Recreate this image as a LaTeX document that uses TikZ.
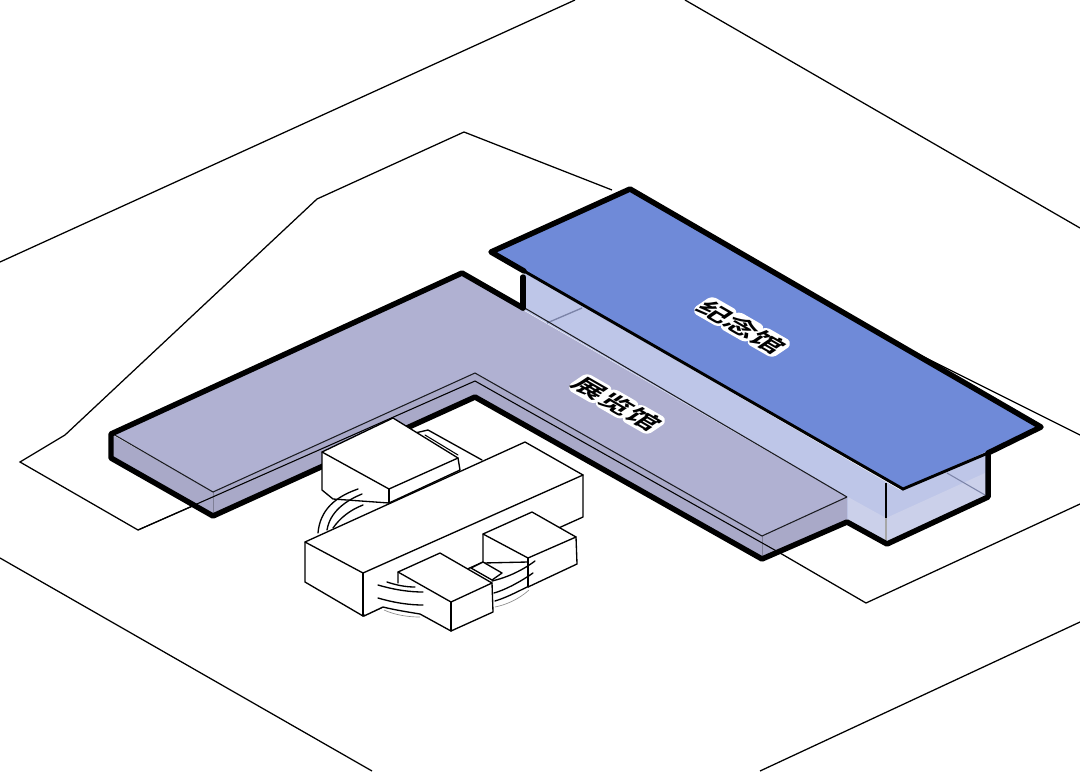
\documentclass[tikz,border=0pt]{standalone}
\usepackage{fontspec}
\newfontfamily\cjk{Noto Sans CJK SC}[BoldFont={Noto Sans CJK SC Bold}]
\definecolor{roofblue}{HTML}{6F8AD8}
\definecolor{slab}{HTML}{B0B1D2}
\definecolor{slabside}{HTML}{A9A9C8}
\definecolor{glass}{HTML}{BEC6E8}
\definecolor{glassfloor}{HTML}{CBD0EA}
\definecolor{glassline}{HTML}{7C84A8}
\tikzset{
  site/.style={draw=black,line width=0.95pt,line join=miter},
  heavy/.style={draw=black,line width=4.1pt,line join=round,line cap=round},
  fine/.style={draw=black!85!slab,line width=0.8pt},
  box/.style={draw=black,fill=white,line width=1pt,line join=round},
  edge/.style={draw=black,line width=1pt,line join=round,line cap=round},
  wire/.style={draw=black,line width=1pt,line cap=round},
  faint/.style={draw=black!45,line width=0.5pt},
  halo/.style={draw=white,fill=white,line width=4.5pt,line join=round,rounded corners=2.5pt},
  label/.style={font=\cjk\bfseries\fontsize{23}{23}\selectfont,inner sep=0pt,transform shape},
}
\begin{document}
\begin{tikzpicture}[x=0.75pt,y=-0.75pt]
\useasboundingbox (0,0) rectangle (1080,771);
\fill[white] (0,0) rectangle (1080,771);
% site lines
\draw[site] (0,262) -- (575,0);
\draw[site] (685,0) -- (1080,228);
\draw[site] (900,345) -- (1080,435);
\draw[site] (0,558) -- (372,771);
\draw[site] (760,771) -- (1080,622);
\draw[site] (612,190) -- (464,132) -- (317,199) -- (65,435) -- (20,462) -- (138,530) -- (220,494);
\draw[site] (780,553) -- (866,603) -- (1080,504);
% memorial glass body
\fill[glass] (524,272) -- (524,310) -- (847,497) -- (847,522) -- (887,544) -- (988,497) -- (988,450) -- (900,490) -- cycle;
\fill[glassfloor] (848,497) -- (886,518) -- (985,473) -- (986,496) -- (887,541) -- (848,520) -- cycle;
\draw[glassline,line width=1pt] (547,323) -- (582,308);
\draw[glassline,line width=0.8pt] (947,473) -- (985,495);
\draw[black,line width=1pt] (886,483) -- (886,518);
\draw[black!35,line width=0.8pt] (886,518) -- (886,540);
% exhibition slab
\fill[slabside] (111,434) -- (111,458) -- (213,516) -- (475,397) -- (762,558) -- (847,521) -- (847,497) -- (762,536) -- (475,373) -- (213,492) -- cycle;
\fill[slab] (113,434) -- (462,275) -- (847,497) -- (762,536) -- (475,373) -- (213,492) -- cycle;
\draw[black!25!slabside,line width=0.6pt] (213,492) -- (213,514);
\draw[black!25!slabside,line width=0.6pt] (762,536) -- (762,556);
\draw[fine] (113,434) -- (213,492) -- (475,373) -- (762,536) -- (847,497);
\draw[fine] (523,307) -- (847,497);
\draw[site,line width=0.8pt] (138,530) -- (475,381) -- (780,553);
% heavy outlines
\draw[heavy] (523,308) -- (462,273) -- (111,434) -- (111,458) -- (213,516) -- (475,397) -- (762,559) -- (847,522) -- (887,544) -- (988,497) -- (988,455);
\draw[heavy] (523,277) -- (523,308);
% memorial roof
\fill[roofblue] (491,252) -- (630,189) -- (1041,427) -- (903,489) -- cycle;
\draw[heavy] (988,453) -- (1041,427) -- (630,189) -- (491,252) -- (524,271);
\draw[black,line width=2.2pt,line cap=round] (524,271) -- (903,489) -- (988,453);
% small building: rear link
\fill[white] (415,432) -- (428,430) -- (482,460) -- (460,470) -- cycle;
\draw[edge] (415,433) -- (428,430) -- (482,460);
\draw[edge,line width=0.8pt] (425,435) -- (458,455);
% rear block
\draw[box] (322,452) -- (322,490) -- (333,499) -- (389,503) -- (460,470) -- (458,458) -- (393,418) -- cycle;
\draw[edge] (322,452) -- (389,489) -- (458,458);
\draw[edge] (389,489) -- (389,503);
% curves, rear
\draw[wire] (358,489) .. controls (335,497) and (320,510) .. (318,533);
\draw[wire] (362,494) .. controls (345,501) and (330,512) .. (327,530);
\draw[wire] (363,505) .. controls (350,510) and (340,518) .. (333,528);
% long block
\draw[box] (305,542) -- (525,442) -- (583,475) -- (583,517) -- (363,616) -- (305,582) -- cycle;
\draw[edge] (305,542) -- (363,573) -- (583,475);
\draw[edge] (363,573) -- (363,616);
% front-right block
\draw[box] (483,534) -- (532,512) -- (576,537) -- (577,564) -- (528,587) -- (528,562) -- (483,563) -- cycle;
\draw[edge] (483,534) -- (528,558) -- (576,537);
\draw[edge] (528,558) -- (528,587);
% link between front blocks
\draw[box] (471,568) -- (483,562) -- (502,573) -- (492,580) -- cycle;
% front block
\fill[white] (398,572) -- (440,553) -- (492,583) -- (493,612) -- (451,631) -- (420,613) -- (383,607) -- (365,616) -- (365,585) -- (398,583) -- cycle;
\draw[edge] (398,583) -- (398,572) -- (440,553) -- (492,583) -- (493,612) -- (451,631) -- (420,614) .. controls (408,612) and (395,610) .. (383,607) -- (364,616);
\draw[edge] (398,572) -- (451,602) -- (492,583);
\draw[edge] (451,602) -- (451,631);
\draw[faint] (384,610) .. controls (395,615) and (408,617) .. (420,617);
\draw[wire] (387,582) .. controls (396,585) and (405,587) .. (415,587);
\draw[wire] (378,585) .. controls (395,590) and (410,592) .. (423,592);
\draw[wire] (378,598) .. controls (395,603) and (410,605) .. (423,605);
% curves, right
\draw[wire] (535,561) .. controls (520,572) and (505,578) .. (492,581);
\draw[wire] (533,573) .. controls (520,582) and (505,590) .. (494,593);
\draw[wire] (527,587) .. controls (515,593) and (505,598) .. (495,601);
\draw[faint] (529,590) .. controls (518,600) and (505,605) .. (495,607);
% labels
\begin{scope}[shift={(742,327)},cm={0.87,-0.5,0.62,0.42,(0,0)}]
  \foreach \c in {-30.7,0,30.7}
    \draw[halo] (\c-13.5,-13.5) rectangle (\c+13.5,13.5);
  \node[label,black] (memorial) at (0,0) {纪念馆};
\end{scope}
\begin{scope}[shift={(617,404)},cm={0.87,-0.5,0.62,0.42,(0,0)}]
  \foreach \c in {-30.7,0,30.7}
    \draw[halo] (\c-13.5,-13.5) rectangle (\c+13.5,13.5);
  \node[label,black] (exhibit) at (0,0) {展览馆};
\end{scope}
\end{tikzpicture}
\end{document}
